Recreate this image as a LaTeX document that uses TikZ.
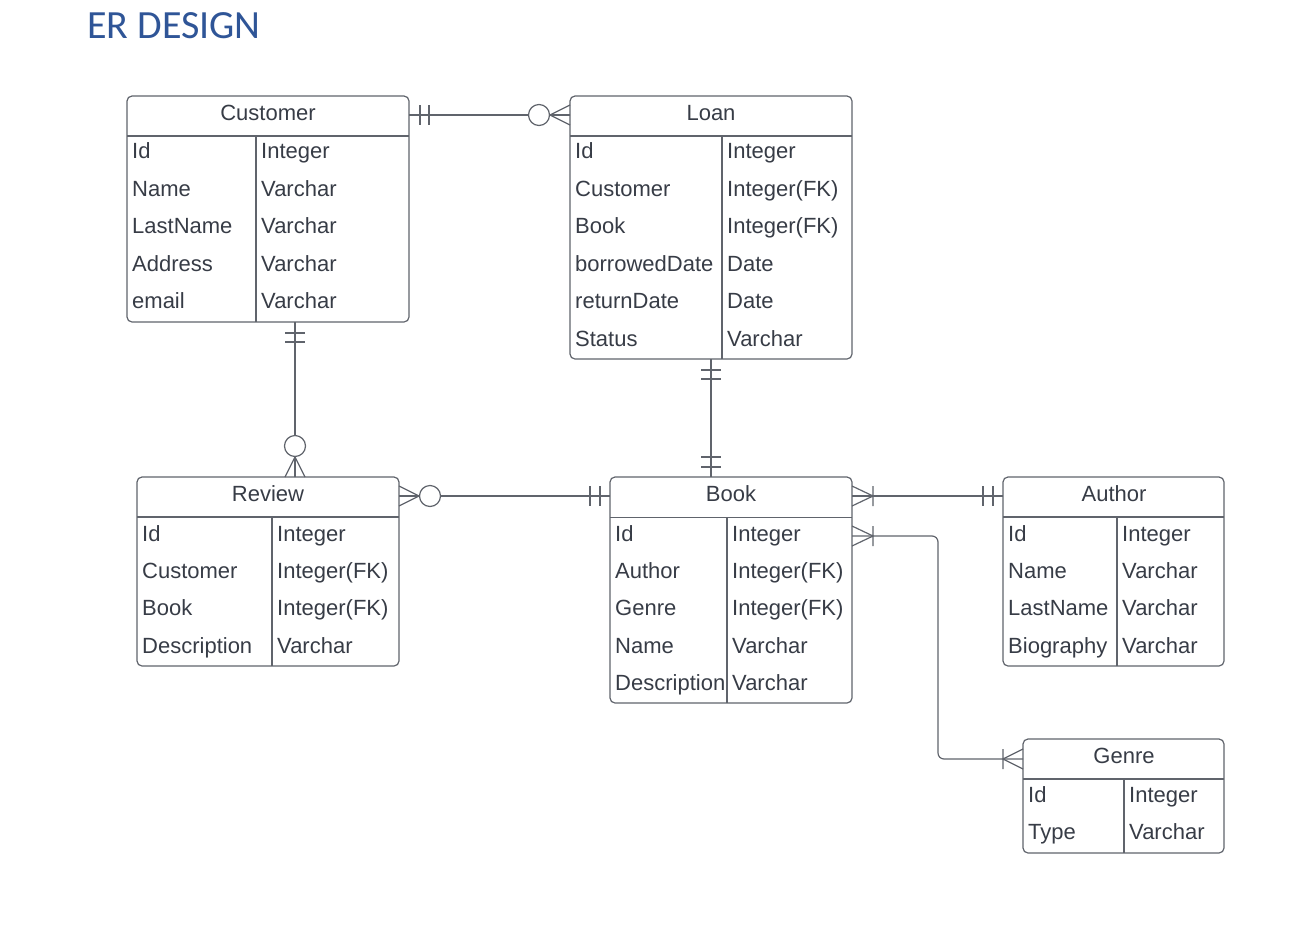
\documentclass[tikz,border=0pt]{standalone}
\usepackage{fontspec}
\setmainfont{Liberation Sans}
\newfontfamily\titlefont{Carlito}
\definecolor{linegray}{RGB}{96,100,108}
\definecolor{textgray}{RGB}{55,60,70}
\definecolor{titleblue}{RGB}{47,85,151}

\begin{document}
\begin{tikzpicture}[x=1pt,y=-1pt]
  \tikzset{TableStyle/.style = {
    shape         = rectangle,
    draw          = linegray,
    rounded corners = 5pt,
    line width    = 1.2pt,
    anchor        = north west,
    inner sep     = 0pt,
    outer sep     = 0pt
    }
  }
  \tikzset{HeadStyle/.style = {
    text          = textgray,
    font          = \fontsize{22}{26}\selectfont,
    inner sep     = 0pt,
    anchor        = base
    }
  }
  \tikzset{FieldStyle/.style = {
    text          = textgray,
    font          = \fontsize{22}{26}\selectfont,
    inner sep     = 0pt,
    anchor        = base west
    }
  }
  \tikzset{TitleStyle/.style = {
    text          = titleblue,
    font          = \titlefont\fontsize{40}{48}\selectfont,
    inner sep     = 0pt,
    anchor        = base west
    }
  }
  \tikzset{RuleStyle/.style = {
    draw          = linegray,
    line width    = 1.2pt
    }
  }
  \tikzset{LinkStyle/.style = {
    draw          = linegray,
    line width    = 1.2pt
    }
  }

  \useasboundingbox (0,0) rectangle (1308,924);

  \node[TitleStyle](Title) at (87,38) {ER DESIGN};

  % Customer
  \node[TableStyle, minimum width=282pt, minimum height=226pt](Customer) at (127,96) {};
  \draw[RuleStyle] (127,136) -- (409,136);
  \draw[RuleStyle] (256,136) -- (256,322);
  \node[HeadStyle](CustomerTitle) at (268,120) {Customer};
  \node[FieldStyle](CustomerF1) at (132,158.5) {Id};
  \node[FieldStyle](CustomerT1) at (261,158.5) {Integer};
  \node[FieldStyle](CustomerF2) at (132,196) {Name};
  \node[FieldStyle](CustomerT2) at (261,196) {Varchar};
  \node[FieldStyle](CustomerF3) at (132,233.5) {LastName};
  \node[FieldStyle](CustomerT3) at (261,233.5) {Varchar};
  \node[FieldStyle](CustomerF4) at (132,271) {Address};
  \node[FieldStyle](CustomerT4) at (261,271) {Varchar};
  \node[FieldStyle](CustomerF5) at (132,308.5) {email};
  \node[FieldStyle](CustomerT5) at (261,308.5) {Varchar};

  % Loan
  \node[TableStyle, minimum width=282pt, minimum height=263pt](Loan) at (570,96) {};
  \draw[RuleStyle] (570,136) -- (852,136);
  \draw[RuleStyle] (722,136) -- (722,359);
  \node[HeadStyle](LoanTitle) at (711,120) {Loan};
  \node[FieldStyle](LoanF1) at (575,158.5) {Id};
  \node[FieldStyle](LoanT1) at (727,158.5) {Integer};
  \node[FieldStyle](LoanF2) at (575,196) {Customer};
  \node[FieldStyle](LoanT2) at (727,196) {Integer(FK)};
  \node[FieldStyle](LoanF3) at (575,233.5) {Book};
  \node[FieldStyle](LoanT3) at (727,233.5) {Integer(FK)};
  \node[FieldStyle](LoanF4) at (575,271) {borrowedDate};
  \node[FieldStyle](LoanT4) at (727,271) {Date};
  \node[FieldStyle](LoanF5) at (575,308.5) {returnDate};
  \node[FieldStyle](LoanT5) at (727,308.5) {Date};
  \node[FieldStyle](LoanF6) at (575,346) {Status};
  \node[FieldStyle](LoanT6) at (727,346) {Varchar};

  % Review
  \node[TableStyle, minimum width=262pt, minimum height=189pt](Review) at (137,477) {};
  \draw[RuleStyle] (137,517) -- (399,517);
  \draw[RuleStyle] (272,517) -- (272,666);
  \node[HeadStyle](ReviewTitle) at (268,501) {Review};
  \node[FieldStyle](ReviewF1) at (142,541) {Id};
  \node[FieldStyle](ReviewT1) at (277,541) {Integer};
  \node[FieldStyle](ReviewF2) at (142,578.5) {Customer};
  \node[FieldStyle](ReviewT2) at (277,578.5) {Integer(FK)};
  \node[FieldStyle](ReviewF3) at (142,615.5) {Book};
  \node[FieldStyle](ReviewT3) at (277,615.5) {Integer(FK)};
  \node[FieldStyle](ReviewF4) at (142,653) {Description};
  \node[FieldStyle](ReviewT4) at (277,653) {Varchar};

  % Book
  \node[TableStyle, minimum width=242pt, minimum height=226pt](Book) at (610,477) {};
  \draw[RuleStyle] (610,517.5) -- (852,517.5);
  \draw[RuleStyle] (727,517.5) -- (727,703);
  \node[HeadStyle](BookTitle) at (731,501) {Book};
  \node[FieldStyle](BookF1) at (615,541) {Id};
  \node[FieldStyle](BookT1) at (732,541) {Integer};
  \node[FieldStyle](BookF2) at (615,578.5) {Author};
  \node[FieldStyle](BookT2) at (732,578.5) {Integer(FK)};
  \node[FieldStyle](BookF3) at (615,615.5) {Genre};
  \node[FieldStyle](BookT3) at (732,615.5) {Integer(FK)};
  \node[FieldStyle](BookF4) at (615,653) {Name};
  \node[FieldStyle](BookT4) at (732,653) {Varchar};
  \node[FieldStyle](BookF5) at (615,690) {Description};
  \node[FieldStyle](BookT5) at (732,690) {Varchar};

  % Author
  \node[TableStyle, minimum width=221pt, minimum height=189pt](Author) at (1003,477) {};
  \draw[RuleStyle] (1003,517) -- (1224,517);
  \draw[RuleStyle] (1117,517) -- (1117,666);
  \node[HeadStyle](AuthorTitle) at (1114,501) {Author};
  \node[FieldStyle](AuthorF1) at (1008,541) {Id};
  \node[FieldStyle](AuthorT1) at (1122,541) {Integer};
  \node[FieldStyle](AuthorF2) at (1008,578.5) {Name};
  \node[FieldStyle](AuthorT2) at (1122,578.5) {Varchar};
  \node[FieldStyle](AuthorF3) at (1008,615.5) {LastName};
  \node[FieldStyle](AuthorT3) at (1122,615.5) {Varchar};
  \node[FieldStyle](AuthorF4) at (1008,653) {Biography};
  \node[FieldStyle](AuthorT4) at (1122,653) {Varchar};

  % Genre
  \node[TableStyle, minimum width=201pt, minimum height=114pt](Genre) at (1023,739) {};
  \draw[RuleStyle] (1023,779) -- (1224,779);
  \draw[RuleStyle] (1124,779) -- (1124,853);
  \node[HeadStyle](GenreTitle) at (1124,763) {Genre};
  \node[FieldStyle](GenreF1) at (1028,802) {Id};
  \node[FieldStyle](GenreT1) at (1129,802) {Integer};
  \node[FieldStyle](GenreF2) at (1028,839.5) {Type};
  \node[FieldStyle](GenreT2) at (1129,839.5) {Varchar};

  % Customer -- Loan
  \coordinate (CL1) at ([yshift=-19pt]Customer.north east);
  \coordinate (CL2) at ([yshift=-19pt]Loan.north west);
  \draw[LinkStyle] (CL1) -- (CL2);
  \draw[LinkStyle] (CL1) ++(11,-10) -- ++(0,20) (CL1) ++(20,-10) -- ++(0,20);
  \draw[LinkStyle, fill=white] (CL2) ++(-31,0) circle[radius=10.5];
  \draw[LinkStyle] (CL2) ++(0,-10) -- ++(-20,10) -- ++(20,10) (CL2) ++(-20,0) -- (CL2);

  % Customer -- Review
  \coordinate (CR1) at ([xshift=168pt]Customer.south west);
  \coordinate (CR2) at ([xshift=158pt]Review.north west);
  \draw[LinkStyle] (CR1) -- (CR2);
  \draw[LinkStyle] (CR1) ++(-10,11) -- ++(20,0) (CR1) ++(-10,20) -- ++(20,0);
  \draw[LinkStyle, fill=white] (CR2) ++(0,-31) circle[radius=10.5];
  \draw[LinkStyle] (CR2) ++(-10,0) -- ++(10,-20) -- ++(10,20) (CR2) ++(0,-20) -- (CR2);

  % Review -- Book
  \coordinate (RB1) at ([yshift=-19pt]Review.north east);
  \coordinate (RB2) at ([yshift=-19pt]Book.north west);
  \draw[LinkStyle] (RB1) -- (RB2);
  \draw[LinkStyle, fill=white] (RB1) ++(31,0) circle[radius=10.5];
  \draw[LinkStyle] (RB1) ++(0,-10) -- ++(20,10) -- ++(-20,10) (RB1) ++(20,0) -- (RB1);
  \draw[LinkStyle] (RB2) ++(-10,-10) -- ++(0,20) (RB2) ++(-20,-10) -- ++(0,20);

  % Loan -- Book
  \coordinate (LB1) at ([xshift=141pt]Loan.south west);
  \coordinate (LB2) at ([xshift=101pt]Book.north west);
  \draw[LinkStyle] (LB1) -- (LB2);
  \draw[LinkStyle] (LB1) ++(-10,11) -- ++(20,0) (LB1) ++(-10,20) -- ++(20,0);
  \draw[LinkStyle] (LB2) ++(-10,-10) -- ++(20,0) (LB2) ++(-10,-20) -- ++(20,0);

  % Book -- Author
  \coordinate (BA1) at ([yshift=-19pt]Book.north east);
  \coordinate (BA2) at ([yshift=-19pt]Author.north west);
  \draw[LinkStyle] (BA1) -- (BA2);
  \draw[LinkStyle] (BA1) ++(0,-10) -- ++(21,10) -- ++(-21,10) (BA1) ++(21,-10) -- ++(0,20);
  \draw[LinkStyle] (BA2) ++(-10,-10) -- ++(0,20) (BA2) ++(-20,-10) -- ++(0,20);

  % Book -- Genre
  \coordinate (BG1) at ([yshift=-59pt]Book.north east);
  \coordinate (BG2) at ([yshift=-20pt]Genre.north west);
  \draw[LinkStyle, rounded corners=6pt] (BG1) -- ++(86,0) |- (BG2);
  \draw[LinkStyle] (BG1) ++(0,-10) -- ++(21,10) -- ++(-21,10) (BG1) ++(21,-10) -- ++(0,20);
  \draw[LinkStyle] (BG2) ++(0,-10) -- ++(-20,10) -- ++(20,10) (BG2) ++(-20,-10) -- ++(0,20);

\end{tikzpicture}
\end{document}
